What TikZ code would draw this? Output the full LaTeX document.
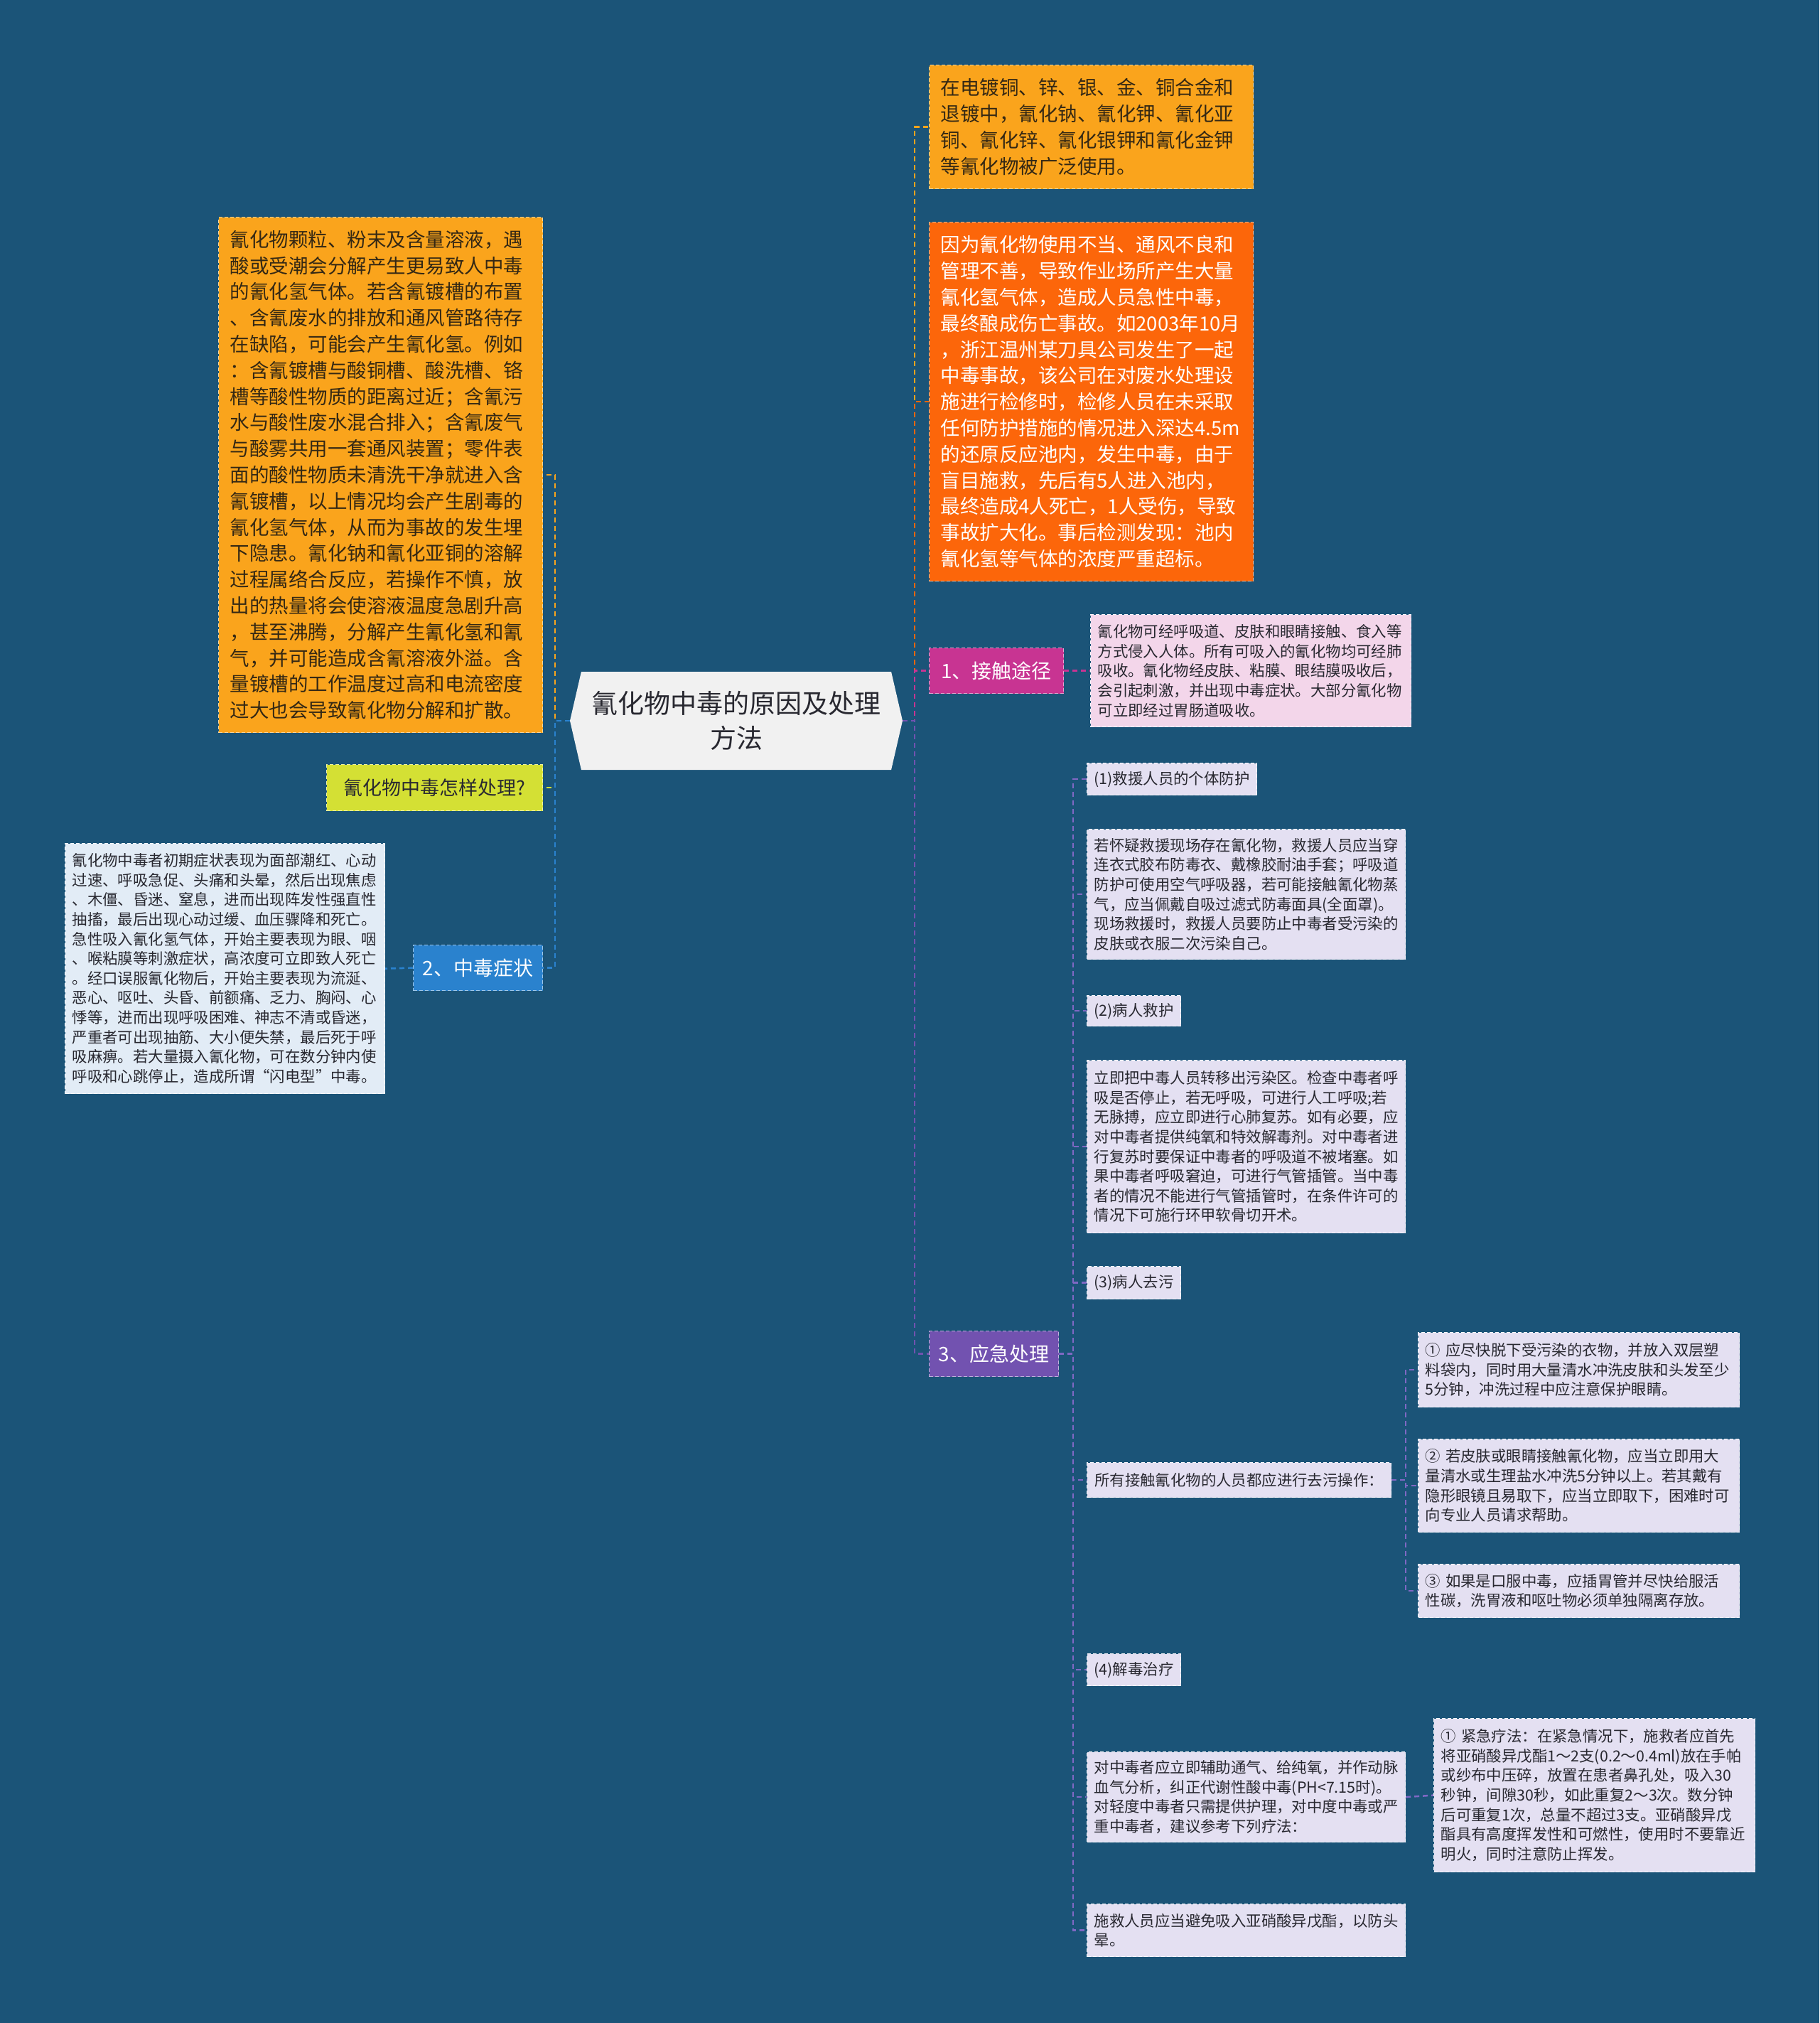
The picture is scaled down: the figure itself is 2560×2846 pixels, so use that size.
\documentclass[tikz,border=0pt]{standalone}
\usepackage{fontspec}
\setmainfont{Noto Sans CJK SC}
\usetikzlibrary{shapes.symbols}
\definecolor{bg}{RGB}{27,84,120}
\definecolor{cOrange}{RGB}{250,164,28}
\definecolor{cRed}{RGB}{252,102,10}
\definecolor{cLime}{RGB}{212,224,52}
\definecolor{cBlue}{RGB}{42,130,206}
\definecolor{cMag}{RGB}{200,52,146}
\definecolor{cPurp}{RGB}{114,82,176}
\definecolor{cLine}{RGB}{128,104,196}
\definecolor{cPink}{RGB}{243,214,234}
\definecolor{cLav}{RGB}{228,224,242}
\definecolor{cSky}{RGB}{226,236,246}
\definecolor{cRoot}{RGB}{241,241,241}
\definecolor{tDark}{RGB}{52,40,20}
\definecolor{tGrey}{RGB}{40,40,48}
\newcommand\myBig{\fontsize{27.5}{36.8}\selectfont}
\newcommand\mySmall{\fontsize{21.4}{27.6}\selectfont}
\newcommand\myLab{\fontsize{28}{34}\selectfont}
\newcommand\myRoot{\fontsize{37}{49}\selectfont}
\begin{document}
\begin{tikzpicture}[x=1pt,y=-1pt,
  boxbase/.style={anchor=north west, inner ysep=0pt, align=left, line width=1.2pt, dash pattern=on 5pt off 3pt},
  bigbox/.style={boxbase, inner xsep=16pt, font=\myBig},
  smallbox/.style={boxbase, inner xsep=10pt, font=\mySmall, text=tGrey, fill=cLav, draw=white!85!cLav},
  tag/.style={boxbase, inner xsep=8pt, font=\mySmall, text=tGrey, fill=cLav, draw=white!85!cLav},
  labbox/.style={boxbase, inner xsep=6pt, align=center, font=\myLab, text=white},
  conn/.style={line width=2.5pt, dash pattern=on 7pt off 5pt},
  rootbox/.style={signal, signal to=west and east, signal pointer angle=154, fill=cRoot, draw=none, minimum width=468pt, minimum height=138pt, align=center, font=\myRoot, text=tGrey, inner sep=0pt}
]
\path[fill=bg] (0,0) rectangle (2560,2846);
\useasboundingbox (0,0) rectangle (2560,2846);

% root
\node[rootbox] (root) at (1036,1014) {氰化物中毒的原因及处理\\方法};

% right top boxes
\node[bigbox, text width=424pt, minimum height=174pt, fill=cOrange, draw=white!55!cOrange, text=tDark] (n1) at (1307,91) {在电镀铜、锌、银、金、铜合金和\\退镀中，氰化钠、氰化钾、氰化亚\\铜、氰化锌、氰化银钾和氰化金钾\\等氰化物被广泛使用。};
\node[bigbox, text width=424pt, minimum height=505pt, fill=cRed, draw=white!55!cRed, text=white] (n2) at (1307,312) {因为氰化物使用不当、通风不良和\\管理不善，导致作业场所产生大量\\氰化氢气体，造成人员急性中毒，\\最终酿成伤亡事故。如2003年10月\\，浙江温州某刀具公司发生了一起\\中毒事故，该公司在对废水处理设\\施进行检修时，检修人员在未采取\\任何防护措施的情况进入深达4.5m\\的还原反应池内，发生中毒，由于\\盲目施救，先后有5人进入池内，\\最终造成4人死亡，1人受伤，导致\\事故扩大化。事后检测发现：池内\\氰化氢等气体的浓度严重超标。};

% left big box
\node[bigbox, text width=424pt, minimum height=725pt, fill=cOrange, draw=white!55!cOrange, text=tDark] (lbig) at (307,305) {氰化物颗粒、粉末及含量溶液，遇\\酸或受潮会分解产生更易致人中毒\\的氰化氢气体。若含氰镀槽的布置\\、含氰废水的排放和通风管路待存\\在缺陷，可能会产生氰化氢。例如\\：含氰镀槽与酸铜槽、酸洗槽、铬\\槽等酸性物质的距离过近；含氰污\\水与酸性废水混合排入；含氰废气\\与酸雾共用一套通风装置；零件表\\面的酸性物质未清洗干净就进入含\\氰镀槽，以上情况均会产生剧毒的\\氰化氢气体，从而为事故的发生埋\\下隐患。氰化钠和氰化亚铜的溶解\\过程属络合反应，若操作不慎，放\\出的热量将会使溶液温度急剧升高\\，甚至沸腾，分解产生氰化氢和氰\\气，并可能造成含氰溶液外溢。含\\量镀槽的工作温度过高和电流密度\\过大也会导致氰化物分解和扩散。};

\node[labbox, minimum width=304pt, minimum height=65pt, fill=cLime, draw=white!55!cLime, text=tGrey, font=\fontsize{27}{32}\selectfont] (howq) at (459,1075) {氰化物中毒怎样处理?};

\node[labbox, minimum width=182pt, minimum height=64pt, fill=cBlue, draw=white!55!cBlue] (lab2) at (581,1329) {2、中毒症状};

\node[smallbox, text width=430pt, minimum height=352pt, fill=cSky, draw=white!85!cSky] (symp) at (91,1186) {氰化物中毒者初期症状表现为面部潮红、心动\\过速、呼吸急促、头痛和头晕，然后出现焦虑\\、木僵、昏迷、窒息，进而出现阵发性强直性\\抽搐，最后出现心动过缓、血压骤降和死亡。\\急性吸入氰化氢气体，开始主要表现为眼、咽\\、喉粘膜等刺激症状，高浓度可立即致人死亡\\。经口误服氰化物后，开始主要表现为流涎、\\恶心、呕吐、头昏、前额痛、乏力、胸闷、心\\悸等，进而出现呼吸困难、神志不清或昏迷，\\严重者可出现抽筋、大小便失禁，最后死于呼\\吸麻痹。若大量摄入氰化物，可在数分钟内使\\呼吸和心跳停止，造成所谓“闪电型”中毒。};

% branch 1
\node[labbox, minimum width=189pt, minimum height=64pt, fill=cMag, draw=white!55!cMag] (lab1) at (1307,911) {1、接触途径};
\node[smallbox, text width=431pt, minimum height=158pt, fill=cPink, draw=white!85!cPink] (touch) at (1534,864) {氰化物可经呼吸道、皮肤和眼睛接触、食入等\\方式侵入人体。所有可吸入的氰化物均可经肺\\吸收。氰化物经皮肤、粘膜、眼结膜吸收后，\\会引起刺激，并出现中毒症状。大部分氰化物\\可立即经过胃肠道吸收。};

% branch 3
\node[labbox, minimum width=182pt, minimum height=64pt, fill=cPurp, draw=white!55!cPurp] (lab3) at (1307,1872) {3、应急处理};

\node[tag, minimum width=239pt, minimum height=45pt] (s1) at (1529,1073) {(1)救援人员的个体防护};
\node[smallbox, text width=428pt, minimum height=183pt] (d1) at (1529,1166) {若怀疑救援现场存在氰化物，救援人员应当穿\\连衣式胶布防毒衣、戴橡胶耐油手套；呼吸道\\防护可使用空气呼吸器，若可能接触氰化物蒸\\气，应当佩戴自吸过滤式防毒面具(全面罩)。\\现场救援时，救援人员要防止中毒者受污染的\\皮肤或衣服二次污染自己。};
\node[tag, minimum width=132pt, minimum height=43pt] (s2) at (1529,1400) {(2)病人救护};
\node[smallbox, text width=428pt, minimum height=243pt] (d2) at (1529,1491) {立即把中毒人员转移出污染区。检查中毒者呼\\吸是否停止，若无呼吸，可进行人工呼吸;若\\无脉搏，应立即进行心肺复苏。如有必要，应\\对中毒者提供纯氧和特效解毒剂。对中毒者进\\行复苏时要保证中毒者的呼吸道不被堵塞。如\\果中毒者呼吸窘迫，可进行气管插管。当中毒\\者的情况不能进行气管插管时，在条件许可的\\情况下可施行环甲软骨切开术。};
\node[tag, minimum width=132pt, minimum height=46pt] (s3) at (1529,1781) {(3)病人去污};
\node[tag, minimum width=428pt, minimum height=49pt] (d3) at (1529,2057) {所有接触氰化物的人员都应进行去污操作：};
\node[smallbox, text width=432pt, minimum height=105pt] (c1) at (1995,1874) {① 应尽快脱下受污染的衣物，并放入双层塑\\料袋内，同时用大量清水冲洗皮肤和头发至少\\5分钟，冲洗过程中应注意保护眼睛。};
\node[smallbox, text width=432pt, minimum height=131pt] (c2) at (1995,2024) {② 若皮肤或眼睛接触氰化物，应当立即用大\\量清水或生理盐水冲洗5分钟以上。若其戴有\\隐形眼镜且易取下，应当立即取下，困难时可\\向专业人员请求帮助。};
\node[smallbox, text width=432pt, minimum height=75pt] (c3) at (1995,2200) {③ 如果是口服中毒，应插胃管并尽快给服活\\性碳，洗胃液和呕吐物必须单独隔离存放。};
\node[tag, minimum width=132pt, minimum height=45pt] (s4) at (1529,2326) {(4)解毒治疗};
\node[smallbox, text width=428pt, minimum height=127pt] (d4) at (1529,2464) {对中毒者应立即辅助通气、给纯氧，并作动脉\\血气分析，纠正代谢性酸中毒(PH<7.15时)。\\对轻度中毒者只需提供护理，对中度中毒或严\\重中毒者，建议参考下列疗法：};
\node[smallbox, text width=432pt, minimum height=216pt] (e1) at (2017,2417) {① 紧急疗法：在紧急情况下，施救者应首先\\将亚硝酸异戊酯1～2支(0.2～0.4ml)放在手帕\\或纱布中压碎，放置在患者鼻孔处，吸入30\\秒钟，间隙30秒，如此重复2～3次。数分钟\\后可重复1次，总量不超过3支。亚硝酸异戊\\酯具有高度挥发性和可燃性，使用时不要靠近\\明火，同时注意防止挥发。};
\node[smallbox, text width=428pt, minimum height=74pt] (d5) at (1529,2678) {施救人员应当避免吸入亚硝酸异戊酯，以防头\\晕。};

% connectors: root right
\draw[conn, cOrange] (root.east) -- ++(17,0) |- (n1.west);
\draw[conn, cRed] (root.east) -- ++(17,0) |- (n2.west);
\draw[conn, cMag] (root.east) -- ++(17,0) |- (lab1.west);
\draw[conn, cPurp] (root.east) -- ++(17,0) |- (lab3.west);
% root left
\draw[conn, cOrange] (root.west) -- ++(-21,0) |- (lbig.east);
\draw[conn, cLime] (root.west) -- ++(-21,0) |- (howq.east);
\draw[conn, cBlue] (root.west) -- ++(-21,0) |- (lab2.east);
% leaves
\draw[conn, cMag] (lab1.east) -- (touch.west);
\draw[conn, cBlue] (lab2.west) -- (symp.east);
\foreach \t in {s1,d1,s2,d2,s3,d3,s4,d4,d5}
  \draw[conn, cLine] (lab3.east) -- ++(20,0) |- (\t.west);
\foreach \t in {c1,c2,c3}
  \draw[conn, cLine] (d3.east) -- ++(20,0) |- (\t.west);
\draw[conn, cLine] (d4.east) -- (e1.west);
\end{tikzpicture}
\end{document}
